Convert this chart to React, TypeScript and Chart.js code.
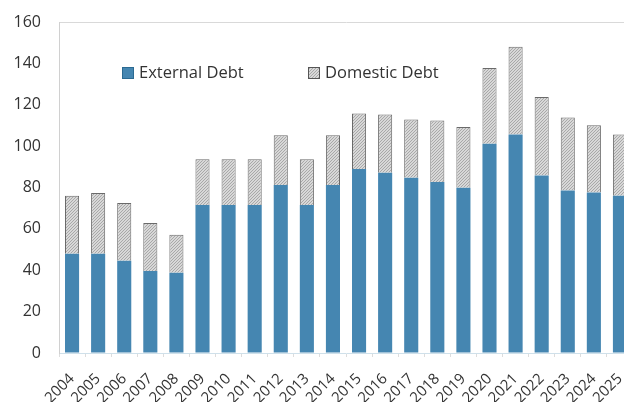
import React, { useEffect, useRef } from "react";
import { Chart, registerables } from "chart.js";

Chart.register(...registerables);

const years = ["2004","2005","2006","2007","2008","2009","2010","2011","2012","2013","2014","2015","2016","2017","2018","2019","2020","2021","2022","2023","2024","2025"];
const externalDebt = [48, 48, 44.6, 39.6, 38.8, 71.5, 71.5, 71.5, 81.2, 71.5, 81.2, 88.9, 87.1, 84.7, 82.6, 79.9, 101.1, 105.6, 85.8, 78.6, 77.6, 76];
const domesticDebt = [28, 29.3, 27.9, 23.2, 18.4, 22.1, 22.1, 22.1, 24.1, 22.1, 24.1, 26.9, 28.2, 28.2, 29.8, 29.4, 36.7, 42.4, 37.9, 35.2, 32.5, 29.6];
const yTicks = [0, 20, 40, 60, 80, 100, 120, 140, 160];

function makePattern(): CanvasPattern | string {
  const c = document.createElement("canvas");
  c.width = 3;
  c.height = 3;
  const g = c.getContext("2d");
  if (!g) return "#cccccc";
  g.fillStyle = "#d8d8d8";
  g.fillRect(0, 0, 3, 3);
  g.fillStyle = "#a8a8a8";
  g.fillRect(2, 0, 1, 1);
  g.fillRect(1, 1, 1, 1);
  g.fillRect(0, 2, 1, 1);
  const p = g.createPattern(c, "repeat");
  return p || "#cccccc";
}

const FONT = "'Open Sans', 'Noto Sans', sans-serif";

const legendPlugin = {
  id: "customLegend",
  afterDraw(chart: any) {
    const ctx = chart.ctx;
    const items = [
      { x: 122, ds: chart.data.datasets[0] },
      { x: 308, ds: chart.data.datasets[1] },
    ];
    const y = 73;
    ctx.save();
    ctx.font = `16.5px ${FONT}`;
    ctx.textBaseline = "middle";
    items.forEach((it) => {
      ctx.fillStyle = it.ds.backgroundColor;
      ctx.fillRect(it.x, y - 6, 12, 12);
      ctx.strokeStyle = it.ds.legendBorder;
      ctx.lineWidth = 1;
      ctx.strokeRect(it.x + 0.5, y - 5.5, 11, 11);
      ctx.fillStyle = "#333333";
      ctx.fillText(it.ds.label, it.x + 17, y);
    });
    ctx.restore();
  },
};

export default function App() {
  const ref = useRef<HTMLCanvasElement | null>(null);
  useEffect(() => {
    document.body.style.margin = "0";
    if (!ref.current) return;
    const pattern = makePattern();
    const chart = new Chart(ref.current, {
      type: "bar",
      data: {
        labels: years,
        datasets: [
          {
            label: "External Debt",
            data: externalDebt,
            backgroundColor: "#4586b1",
            borderColor: "#2b5f80",
            borderWidth: 0,
            barPercentage: 0.54,
            categoryPercentage: 1,
            legendBorder: "#2b6a92",
          } as any,
          {
            label: "Domestic Debt",
            data: domesticDebt,
            backgroundColor: pattern,
            borderColor: "#6a6a6a",
            borderWidth: 1,
            barPercentage: 0.54,
            categoryPercentage: 1,
            legendBorder: "#555555",
          } as any,
        ],
      },
      options: {
        animation: false,
        responsive: false,
        maintainAspectRatio: false,
        layout: { padding: { top: 22, right: 7, left: 0, bottom: 0 } },
        plugins: { legend: { display: false }, tooltip: { enabled: false } },
        scales: {
          x: {
            stacked: true,
            grid: { display: true, drawOnChartArea: false, drawTicks: true, tickLength: 4, color: "#dddddd", offset: true },
            border: { color: "#cfe0ea" },
            ticks: {
              color: "#333333",
              font: { family: FONT, size: 15 },
              maxRotation: 45,
              minRotation: 45,
              autoSkip: false,
              padding: 13,
            },
            afterFit: (s: any) => {
              s.height = 49;
              s.paddingLeft = 0;
              s.paddingRight = 0;
            },
          },
          y: {
            stacked: true,
            min: 0,
            max: 160,
            afterBuildTicks: (s: any) => { s.ticks = yTicks.map((v) => ({ value: v })); },
            grid: {
              drawTicks: false,
              color: (c: any) => (c.tick && c.tick.value === 160 ? "#d9d9d9" : "rgba(0,0,0,0)"),
            },
            border: { color: "#d0d0d0" },
            ticks: {
              color: "#333333",
              font: { family: FONT, size: 16 },
              padding: 18,
            },
            afterFit: (s: any) => {
              s.width = 59;
              s.paddingTop = 0;
              s.paddingBottom = 0;
            },
          },
        },
      },
      plugins: [legendPlugin],
    });
    return () => chart.destroy();
  }, []);
  return (
    <div style={{ width: 624, height: 402, overflow: "hidden", background: "#ffffff" }}>
      <canvas ref={ref} width={640} height={402} style={{ width: 640, height: 402, display: "block" }} />
    </div>
  );
}
